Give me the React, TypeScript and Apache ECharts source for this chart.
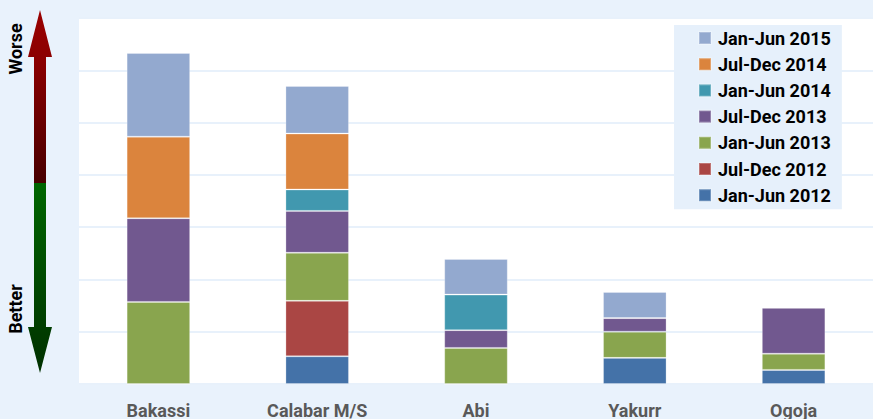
import React, { useEffect, useRef } from "react";
import * as echarts from "echarts";

const categories = ["Bakassi", "Calabar M/S", "Abi", "Yakurr", "Ogoja"];
const seriesNames = [
  "Jan-Jun 2012",
  "Jul-Dec 2012",
  "Jan-Jun 2013",
  "Jul-Dec 2013",
  "Jan-Jun 2014",
  "Jul-Dec 2014",
  "Jan-Jun 2015",
];
const seriesColors = ["#4472a8", "#aa4644", "#89a54e", "#71588f", "#4198af", "#db843d", "#93a9cf"];
const janJun2012 = [0, 0.53, 0, 0.5, 0.27];
const julDec2012 = [0, 1.06, 0, 0, 0];
const janJun2013 = [1.57, 0.92, 0.69, 0.5, 0.31];
const julDec2013 = [1.6, 0.8, 0.34, 0.26, 0.88];
const janJun2014 = [0, 0.41, 0.68, 0, 0];
const julDec2014 = [1.56, 1.07, 0, 0, 0];
const janJun2015 = [1.6, 0.91, 0.68, 0.5, 0];
const seriesValues = [janJun2012, julDec2012, janJun2013, julDec2013, janJun2014, julDec2014, janJun2015];

const FONT = "Roboto, 'Liberation Sans', Arial, sans-serif";

export default function App() {
  const ref = useRef<HTMLDivElement>(null);
  useEffect(() => {
    if (!ref.current) return;
    const chart = echarts.init(ref.current, undefined, { renderer: "svg" });
    chart.setOption({
      animation: false,
      backgroundColor: "#e9f2fc",
      grid: {
        left: 79,
        right: 0,
        top: 18,
        bottom: 35,
        show: true,
        backgroundColor: "#ffffff",
        borderWidth: 0,
      },
      legend: {
        orient: "vertical",
        left: 674,
        top: 25,
        padding: [3, 11, 4, 24],
        backgroundColor: "#e6f0fb",
        itemWidth: 12,
        itemHeight: 12,
        itemGap: 6.2,
        icon: "rect",
        data: [...seriesNames].reverse(),
        textStyle: {
          fontFamily: FONT,
          fontWeight: "bold",
          fontSize: 18,
          lineHeight: 20,
          color: "#000",
          padding: [0, 0, 0, 2],
        },
      },
      xAxis: {
        type: "category",
        data: categories,
        axisLine: { show: false },
        axisTick: { show: false },
        axisLabel: {
          margin: 17,
          fontFamily: FONT,
          fontWeight: "bold",
          fontSize: 18,
          color: "#595959",
        },
      },
      yAxis: {
        type: "value",
        min: 0,
        max: 7,
        interval: 1,
        axisLabel: { show: false },
        axisLine: { show: false },
        axisTick: { show: false },
        splitLine: { lineStyle: { color: "#e8f1fb", width: 2 } },
      },
      series: seriesNames.map((name, i) => ({
        name,
        type: "bar",
        stack: "total",
        barWidth: "40%",
        data: seriesValues[i],
        itemStyle: {
          color: seriesColors[i],
          borderColor: "rgba(255,255,255,0.25)",
          borderWidth: 1,
        },
      })),
      graphic: [
        {
          type: "polygon",
          shape: {
            points: [
              [40, 10],
              [52, 57],
              [46, 57],
              [46, 183],
              [34, 183],
              [34, 57],
              [28, 57],
            ],
          },
          style: {
            fill: new echarts.graphic.LinearGradient(0, 0, 0, 1, [
              { offset: 0, color: "#9a0000" },
              { offset: 0.3, color: "#8a0000" },
              { offset: 1, color: "#480000" },
            ]),
          },
        },
        {
          type: "polygon",
          shape: {
            points: [
              [34, 183],
              [46, 183],
              [46, 327],
              [52, 327],
              [40, 373],
              [28, 327],
              [34, 327],
            ],
          },
          style: {
            fill: new echarts.graphic.LinearGradient(0, 0, 0, 1, [
              { offset: 0, color: "#006600" },
              { offset: 1, color: "#003000" },
            ]),
          },
        },
        {
          type: "text",
          x: 15,
          y: 49,
          rotation: Math.PI / 2,
          style: {
            text: "Worse",
            fontFamily: FONT,
            fontWeight: "bold",
            fontSize: 18,
            fill: "#000",
            align: "center",
            verticalAlign: "middle",
          },
        },
        {
          type: "text",
          x: 15,
          y: 309,
          rotation: Math.PI / 2,
          style: {
            text: "Better",
            fontFamily: FONT,
            fontWeight: "bold",
            fontSize: 18,
            fill: "#000",
            align: "center",
            verticalAlign: "middle",
          },
        },
      ],
    });
    return () => chart.dispose();
  }, []);
  return (
    <div
      ref={ref}
      style={{ position: "fixed", left: 0, top: 0, width: 873, height: 419 }}
    />
  );
}
